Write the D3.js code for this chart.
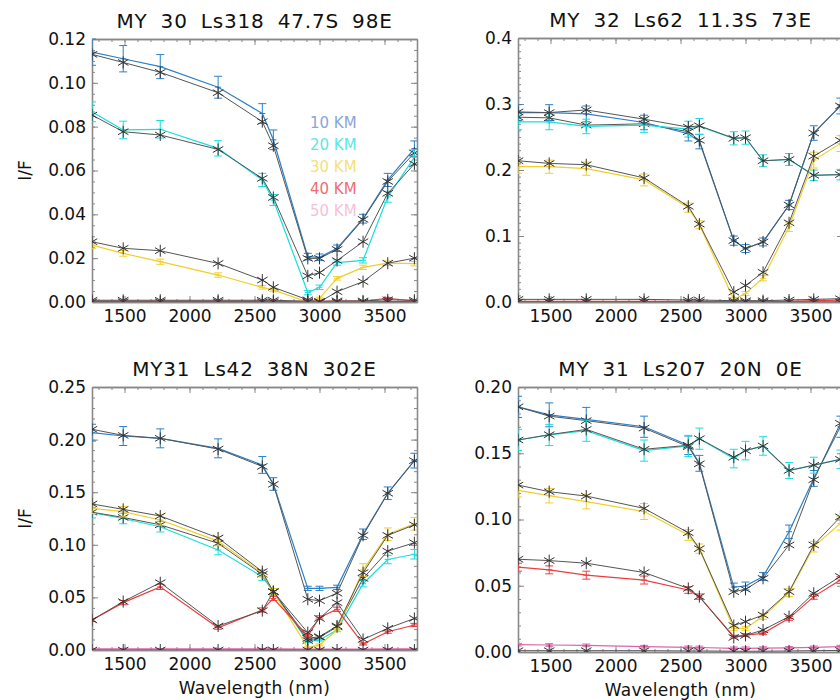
<!DOCTYPE html>
<html>
<head>
<meta charset="utf-8">
<script src="https://cdn.jsdelivr.net/npm/d3@7"></script>
<style>
body{margin:0;background:#fff;}
text{font-family:"DejaVu Sans",sans-serif;fill:#111;}
</style>
</head>
<body>
<div id="vis-container"></div>
<script>
//wavelengths of the 12 channels (nm)
let wavelengths = [1250, 1490, 1775, 2220, 2560, 2645, 2910, 3000, 3135, 3335, 3525, 3730];
let altitudes = ["10 KM", "20 KM", "30 KM", "40 KM", "50 KM"];
let xTicks = [1500, 2000, 2500, 3000, 3500];
let titles = ["MY 30 Ls318 47.7S 98E", "MY 32 Ls62 11.3S 73E", "MY31 Ls42 38N 302E", "MY 31 Ls207 20N 0E"];

//panel 1 : observed I/F, errors, model (one row per altitude)
let p1Obs = [
  [0.1140, 0.1110, 0.1074, 0.0980, 0.0860, 0.0740, 0.0207, 0.0204, 0.0245, 0.0380, 0.0557, 0.0700],
  [0.0868, 0.0785, 0.0788, 0.0701, 0.0557, 0.0465, 0.0043, 0.0067, 0.0180, 0.0190, 0.0480, 0.0660],
  [0.0260, 0.0222, 0.0184, 0.0123, 0.0067, 0.0055, 0.0000, 0.0017, 0.0108, 0.0158, 0.0177, 0.0175],
  [0.0004, 0.0004, 0.0004, 0.0004, 0.0004, 0.0004, 0.0003, 0.0003, 0.0004, 0.0004, 0.0017, 0.0004],
  [0.0002, 0.0002, 0.0002, 0.0002, 0.0002, 0.0002, 0.0001, 0.0001, 0.0001, 0.0001, 0.0002, 0.0002]];
let p1Err = [
  [0.0060, 0.0060, 0.0055, 0.0050, 0.0045, 0.0045, 0.0015, 0.0015, 0.0015, 0.0020, 0.0030, 0.0035],
  [0.0045, 0.0040, 0.0040, 0.0035, 0.0030, 0.0025, 0.0010, 0.0010, 0.0012, 0.0012, 0.0025, 0.0035],
  [0.0015, 0.0013, 0.0012, 0.0010, 0.0008, 0.0008, 0.0005, 0.0005, 0.0008, 0.0010, 0.0010, 0.0010],
  [0.0003, 0.0003, 0.0003, 0.0003, 0.0003, 0.0003, 0.0003, 0.0003, 0.0003, 0.0003, 0.0004, 0.0003],
  [0.0002, 0.0002, 0.0002, 0.0002, 0.0002, 0.0002, 0.0002, 0.0002, 0.0002, 0.0002, 0.0002, 0.0002]];
let p1Mod = [
  [0.1130, 0.1093, 0.1048, 0.0955, 0.0823, 0.0713, 0.0199, 0.0199, 0.0240, 0.0377, 0.0550, 0.0680],
  [0.0853, 0.0777, 0.0762, 0.0696, 0.0564, 0.0477, 0.0119, 0.0134, 0.0189, 0.0275, 0.0496, 0.0630],
  [0.0275, 0.0245, 0.0234, 0.0176, 0.0100, 0.0067, 0.0010, 0.0000, 0.0047, 0.0093, 0.0177, 0.0200],
  [0.0008, 0.0008, 0.0008, 0.0008, 0.0008, 0.0008, 0.0003, 0.0003, 0.0005, 0.0005, 0.0010, 0.0008],
  [0.0001, 0.0001, 0.0001, 0.0001, 0.0001, 0.0001, 0.0000, 0.0000, 0.0000, 0.0000, 0.0001, 0.0001]];

//panel 2
let p2Obs = [
  [0.287, 0.287, 0.285, 0.272, 0.255, 0.243, 0.093, 0.081, 0.091, 0.147, 0.256, 0.297],
  [0.273, 0.273, 0.266, 0.268, 0.262, 0.266, 0.248, 0.249, 0.214, 0.216, 0.192, 0.193],
  [0.205, 0.205, 0.202, 0.185, 0.143, 0.117, 0.004, 0.013, 0.036, 0.114, 0.215, 0.240],
  [0.001, 0.001, 0.001, 0.001, 0.001, 0.001, 0.001, 0.001, 0.001, 0.001, 0.002, 0.003],
  [0.000, 0.000, 0.000, 0.000, 0.000, 0.000, 0.000, 0.000, 0.000, 0.000, 0.000, 0.000]];
let p2Err = [
  [0.012, 0.012, 0.012, 0.011, 0.011, 0.011, 0.007, 0.006, 0.006, 0.007, 0.011, 0.012],
  [0.012, 0.012, 0.011, 0.011, 0.012, 0.012, 0.010, 0.010, 0.009, 0.009, 0.008, 0.008],
  [0.010, 0.010, 0.010, 0.009, 0.007, 0.006, 0.003, 0.003, 0.004, 0.007, 0.012, 0.012],
  [0.001, 0.001, 0.001, 0.001, 0.001, 0.001, 0.001, 0.001, 0.001, 0.001, 0.001, 0.001],
  [0.001, 0.001, 0.001, 0.001, 0.001, 0.001, 0.001, 0.001, 0.001, 0.001, 0.001, 0.001]];
let p2Mod = [
  [0.280, 0.279, 0.268, 0.270, 0.258, 0.245, 0.093, 0.081, 0.091, 0.147, 0.256, 0.297],
  [0.288, 0.287, 0.291, 0.277, 0.265, 0.267, 0.248, 0.249, 0.214, 0.216, 0.192, 0.193],
  [0.214, 0.210, 0.208, 0.188, 0.145, 0.118, 0.015, 0.025, 0.045, 0.120, 0.221, 0.245],
  [0.004, 0.004, 0.004, 0.004, 0.003, 0.003, 0.002, 0.002, 0.002, 0.003, 0.004, 0.005],
  [0.000, 0.000, 0.000, 0.000, 0.000, 0.000, 0.000, 0.000, 0.000, 0.000, 0.000, 0.000]];

//panel 3
let p3Obs = [
  [0.2066, 0.2034, 0.2012, 0.1917, 0.1759, 0.1578, 0.0586, 0.0586, 0.0596, 0.1100, 0.1490, 0.1800],
  [0.1305, 0.1250, 0.1172, 0.0950, 0.0697, 0.0554, 0.0079, 0.0095, 0.0190, 0.0630, 0.0860, 0.0910],
  [0.1347, 0.1315, 0.1236, 0.1035, 0.0730, 0.0554, 0.0020, 0.0048, 0.0190, 0.0760, 0.1100, 0.1200],
  [0.0285, 0.0450, 0.0600, 0.0212, 0.0380, 0.0490, 0.0133, 0.0310, 0.0387, 0.0057, 0.0174, 0.0238],
  [0.0010, 0.0010, 0.0010, 0.0010, 0.0010, 0.0010, 0.0008, 0.0008, 0.0008, 0.0008, 0.0010, 0.0010]];
let p3Err = [
  [0.0080, 0.0090, 0.0090, 0.0090, 0.0080, 0.0060, 0.0020, 0.0020, 0.0020, 0.0050, 0.0060, 0.0070],
  [0.0050, 0.0050, 0.0050, 0.0045, 0.0035, 0.0030, 0.0010, 0.0010, 0.0015, 0.0030, 0.0040, 0.0045],
  [0.0050, 0.0050, 0.0050, 0.0045, 0.0035, 0.0030, 0.0010, 0.0010, 0.0015, 0.0060, 0.0060, 0.0060],
  [0.0015, 0.0020, 0.0025, 0.0015, 0.0020, 0.0020, 0.0010, 0.0015, 0.0020, 0.0010, 0.0015, 0.0015],
  [0.0005, 0.0005, 0.0005, 0.0005, 0.0005, 0.0005, 0.0005, 0.0005, 0.0005, 0.0005, 0.0005, 0.0005]];
let p3Mod = [
  [0.2098, 0.2040, 0.2012, 0.1910, 0.1745, 0.1575, 0.0482, 0.0469, 0.0540, 0.1090, 0.1490, 0.1800],
  [0.1310, 0.1260, 0.1190, 0.1014, 0.0720, 0.0554, 0.0090, 0.0120, 0.0220, 0.0680, 0.0940, 0.1020],
  [0.1388, 0.1337, 0.1274, 0.1065, 0.0745, 0.0554, 0.0110, 0.0127, 0.0228, 0.0735, 0.1090, 0.1190],
  [0.0285, 0.0460, 0.0640, 0.0228, 0.0374, 0.0554, 0.0165, 0.0300, 0.0450, 0.0100, 0.0206, 0.0300],
  [0.0000, 0.0000, 0.0000, 0.0000, 0.0000, 0.0000, 0.0000, 0.0000, 0.0000, 0.0000, 0.0000, 0.0000]];

//panel 4
let p4Obs = [
  [0.1850, 0.1790, 0.1756, 0.1700, 0.1560, 0.1424, 0.0490, 0.0498, 0.0569, 0.0908, 0.1310, 0.1700],
  [0.1600, 0.1638, 0.1670, 0.1520, 0.1555, 0.1610, 0.1460, 0.1520, 0.1555, 0.1370, 0.1410, 0.1454],
  [0.1220, 0.1180, 0.1135, 0.1060, 0.0883, 0.0780, 0.0179, 0.0179, 0.0267, 0.0448, 0.0795, 0.0970],
  [0.0640, 0.0620, 0.0580, 0.0543, 0.0468, 0.0418, 0.0116, 0.0128, 0.0141, 0.0254, 0.0418, 0.0543],
  [0.0055, 0.0053, 0.0050, 0.0040, 0.0035, 0.0034, 0.0028, 0.0028, 0.0029, 0.0031, 0.0035, 0.0040]];
let p4Err = [
  [0.0080, 0.0090, 0.0090, 0.0080, 0.0070, 0.0060, 0.0030, 0.0030, 0.0030, 0.0050, 0.0060, 0.0080],
  [0.0080, 0.0080, 0.0080, 0.0080, 0.0080, 0.0080, 0.0070, 0.0070, 0.0070, 0.0060, 0.0060, 0.0070],
  [0.0050, 0.0055, 0.0055, 0.0060, 0.0040, 0.0035, 0.0015, 0.0015, 0.0020, 0.0030, 0.0040, 0.0050],
  [0.0030, 0.0030, 0.0030, 0.0030, 0.0025, 0.0020, 0.0010, 0.0010, 0.0010, 0.0015, 0.0020, 0.0025],
  [0.0010, 0.0010, 0.0010, 0.0010, 0.0010, 0.0010, 0.0010, 0.0010, 0.0010, 0.0010, 0.0010, 0.0010]];
let p4Mod = [
  [0.1850, 0.1780, 0.1746, 0.1690, 0.1550, 0.1420, 0.0455, 0.0473, 0.0556, 0.0808, 0.1300, 0.1726],
  [0.1600, 0.1640, 0.1680, 0.1530, 0.1560, 0.1610, 0.1470, 0.1520, 0.1555, 0.1370, 0.1410, 0.1454],
  [0.1260, 0.1210, 0.1177, 0.1084, 0.0900, 0.0780, 0.0200, 0.0229, 0.0279, 0.0455, 0.0808, 0.1020],
  [0.0700, 0.0690, 0.0670, 0.0600, 0.0480, 0.0418, 0.0110, 0.0125, 0.0166, 0.0267, 0.0443, 0.0570],
  [0.0010, 0.0010, 0.0010, 0.0010, 0.0008, 0.0008, 0.0006, 0.0006, 0.0006, 0.0008, 0.0010, 0.0012]];

//colours per altitude (lines) and legend text colours
let lineColors = ["#2b80c8", "#19dede", "#f0cf2a", "#ee3c3c", "#e063ac"];
let legendColors = ["#8aa6d8", "#5ee6e6", "#f4df7c", "#ee6e74", "#f4c2d8"];
let modelColor = "#555";

//layout of the four panels
let W = 325;
let panels = [
  {title:titles[0], obs:p1Obs, err:p1Err, mod:p1Mod, yMax:0.12, yStep:0.02, yMinor:4, fmt:".2f", left:92,  top:39,  h:263, legend:true, xTitle:false},
  {title:titles[1], obs:p2Obs, err:p2Err, mod:p2Mod, yMax:0.4,  yStep:0.1,  yMinor:10, fmt:".1f", left:518, top:38,  h:264, legend:false, xTitle:false},
  {title:titles[2], obs:p3Obs, err:p3Err, mod:p3Mod, yMax:0.25, yStep:0.05, yMinor:5, fmt:".2f", left:92,  top:387, h:263, legend:false, xTitle:true},
  {title:titles[3], obs:p4Obs, err:p4Err, mod:p4Mod, yMax:0.20, yStep:0.05, yMinor:5, fmt:".2f", left:518, top:387, h:265, legend:false, xTitle:true}
];

let svg = d3.select("#vis-container")
  .append("svg")
  .attr("width", 840)
  .attr("height", 700);

let x = d3.scaleLinear().domain([1250, 3750]).range([0, W]);

//asterisk marker (IDL psym 2 look)
function asterisk(r){
  let a = r*0.87, b = r*0.5;
  return `M0,${-r}L0,${r}M${-a},${-b}L${a},${b}M${-a},${b}L${a},${-b}`;
}

panels.forEach((p, pi)=>{
  let g = svg.append("g").attr("transform", `translate(${p.left}, ${p.top})`);
  let y = d3.scaleLinear().domain([0, p.yMax]).range([p.h, 0]);

  let clipId = "clip" + pi;
  g.append("clipPath").attr("id", clipId)
    .append("rect").attr("x", 0).attr("y", -1).attr("width", W).attr("height", p.h + 1);

  //title
  g.append("text")
    .attr("x", W/2).attr("y", -11)
    .attr("text-anchor", "middle")
    .attr("font-size", "20px")
    .attr("letter-spacing", "0.8px")
    .attr("word-spacing", "6px")
    .text(p.title);

  //axes with inward ticks
  let yMaj = d3.range(0, p.yMax + p.yStep/2, p.yStep);
  let yMin = d3.range(0, p.yMax + 1e-9, p.yStep/p.yMinor);
  let xMin = d3.range(1300, 3750, 100);

  let axes = [
    g.append("g").attr("transform", `translate(0,${p.h})`)
      .call(d3.axisBottom(x).tickValues(xTicks).tickSize(-6).tickSizeOuter(0).tickPadding(8).tickFormat(d3.format("d"))),
    g.append("g").attr("transform", `translate(0,${p.h})`)
      .call(d3.axisBottom(x).tickValues(xMin).tickSize(-3).tickSizeOuter(0).tickFormat("")),
    g.append("g")
      .call(d3.axisTop(x).tickValues(xTicks).tickSize(-6).tickSizeOuter(0).tickFormat("")),
    g.append("g")
      .call(d3.axisTop(x).tickValues(xMin).tickSize(-3).tickSizeOuter(0).tickFormat("")),
    g.append("g")
      .call(d3.axisLeft(y).tickValues(yMaj).tickSize(-6).tickSizeOuter(0).tickPadding(6).tickFormat(d3.format(p.fmt))),
    g.append("g")
      .call(d3.axisLeft(y).tickValues(yMin).tickSize(-3).tickSizeOuter(0).tickFormat("")),
    g.append("g").attr("transform", `translate(${W},0)`)
      .call(d3.axisRight(y).tickValues(yMaj).tickSize(-6).tickSizeOuter(0).tickFormat("")),
    g.append("g").attr("transform", `translate(${W},0)`)
      .call(d3.axisRight(y).tickValues(yMin).tickSize(-3).tickSizeOuter(0).tickFormat(""))
  ];
  axes.forEach(a=>{
    a.selectAll(".domain").attr("stroke", "#888").attr("stroke-width", 1.3);
    a.selectAll(".tick line").attr("stroke", "#888");
    a.selectAll(".tick text").attr("font-size", "17px").attr("font-family", "DejaVu Sans").attr("fill", "#111");
  });

  //axis titles
  g.append("text")
    .attr("transform", `translate(${-67},${p.h/2}) rotate(-90)`)
    .attr("text-anchor", "middle")
    .attr("dy", "0.35em")
    .attr("font-size", "17px")
    .text(pi % 2 == 0 ? "I/F" : "");
  if(p.xTitle){
    g.append("text")
      .attr("x", W/2).attr("y", p.h + 44)
      .attr("text-anchor", "middle")
      .attr("font-size", "17px")
      .attr("letter-spacing", "0.3px")
      .text("Wavelength (nm)");
  }

  //data
  let gData = g.append("g").attr("clip-path", `url(#${clipId})`);
  let line = d3.line().x((d,i)=>x(wavelengths[i])).y(d=>y(d));

  altitudes.forEach((alt, k)=>{
    let col = lineColors[k];
    let obs = p.obs[k], err = p.err[k], mod = p.mod[k];
    let pts = obs.map((v,i)=>({w:wavelengths[i], v:v, e:err[i]}));

    //observed
    gData.append("path").datum(obs)
      .attr("d", line).attr("fill", "none")
      .attr("stroke", col).attr("stroke-width", 1.2);
    let eb = gData.append("g").attr("stroke", col).attr("stroke-width", 1);
    eb.selectAll("path").data(pts).enter().append("path")
      .attr("fill", "none")
      .attr("d", d=>{
        let cx = x(d.w), y0 = y(d.v - d.e), y1 = y(d.v + d.e);
        return `M${cx},${y0}L${cx},${y1}M${cx-4},${y0}L${cx+4},${y0}M${cx-4},${y1}L${cx+4},${y1}M${cx-3},${y(d.v)}L${cx+3},${y(d.v)}`;
      });

    //model
    gData.append("path").datum(mod)
      .attr("d", line).attr("fill", "none")
      .attr("stroke", modelColor).attr("stroke-width", 1);
    gData.append("g").selectAll("path").data(mod).enter().append("path")
      .attr("transform", (d,i)=>`translate(${x(wavelengths[i])},${y(d)})`)
      .attr("d", asterisk(6))
      .attr("fill", "none")
      .attr("stroke", "#333").attr("stroke-width", 1);
  });

  //legend
  if(p.legend){
    let gLegend = g.append("g").attr("transform", `translate(${310 - p.left},${128 - p.top})`);
    gLegend.selectAll("text").data(altitudes).enter().append("text")
      .attr("x", 0).attr("y", (d,i)=>i*22)
      .attr("font-size", "15px")
      .attr("fill", (d,i)=>legendColors[i])
      .style("fill", (d,i)=>legendColors[i])
      .text(d=>d);
  }
});
</script>
</body>
</html>
